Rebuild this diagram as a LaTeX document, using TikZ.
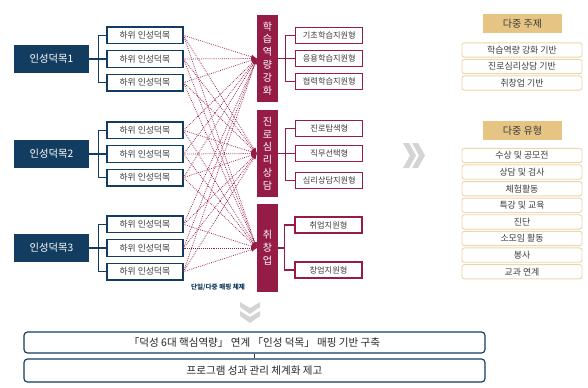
\documentclass[tikz,border=0pt]{standalone}
\usepackage{fontspec}
\setmainfont{Noto Sans CJK KR}
\usetikzlibrary{arrows}
\usetikzlibrary{positioning,calc}
\definecolor{deokNavy}{RGB}{18,60,96}
\definecolor{deokRed}{RGB}{150,28,72}
\definecolor{deokTan}{RGB}{230,196,132}
\definecolor{deokTanLine}{RGB}{236,214,170}
\definecolor{deokText}{RGB}{60,60,60}
\tikzset{virtue/.style={rectangle,fill=deokNavy,text=white,minimum width=2.25cm,
		                 minimum height=0.84cm,inner sep=0pt,font=\fontsize{8.8}{10}\selectfont},
		subVirtue/.style={rectangle,draw=deokNavy,line width=1.1pt,fill=white,text=deokText,
		                 minimum width=2.28cm,minimum height=0.5cm,inner sep=0pt,
		                 font=\fontsize{7.5}{8}\selectfont},
		area/.style={rectangle,fill=deokRed,text=white,minimum width=0.63cm,inner sep=0pt,
		                 font=\fontsize{8.6}{11}\selectfont},
		areaType/.style={rectangle,draw=deokRed,line width=1pt,fill=white,text=deokText,
		                 minimum width=2.01cm,minimum height=0.48cm,inner sep=0pt,
		                 font=\fontsize{7}{8}\selectfont},
		headTan/.style={rectangle,fill=deokTan,text=deokText,minimum width=2.37cm,
		                 minimum height=0.57cm,inner sep=0pt,font=\fontsize{8.6}{9}\selectfont},
		itemTan/.style={rectangle,rounded corners=2pt,draw=deokTanLine,line width=0.8pt,fill=white,
		                 text=deokText,minimum width=3.6cm,minimum height=0.43cm,inner sep=0pt,
		                 font=\fontsize{7.6}{8}\selectfont},
		goal/.style={rectangle,rounded corners=3pt,draw=deokNavy,line width=1pt,fill=white,
		                 text=black!85,minimum width=13.83cm,inner sep=0pt,
		                 font=\fontsize{9}{10}\selectfont},
		bracket/.style={deokNavy,line width=1pt},
		bracketR/.style={deokRed,line width=1pt},
		mapEdge/.style={-latex,densely dotted,deokRed,line width=0.65pt},
		chevron/.style={fill=black!17,draw=none},
		every node/.style={align=center}}
\begin{document}
\begin{tikzpicture}[x=0.03cm,y=-0.03cm]
	\useasboundingbox (0,0) rectangle (588,387);
	% virtues
	\node [virtue] (m1) at (51.5,59) {인성덕목1};
	\node [virtue] (m2) at (51.5,154) {인성덕목2};
	\node [virtue] (m3) at (51.5,248) {인성덕목3};
	\foreach \m in {1,2,3}{
		\node [subVirtue] (s\m b) [right=0.51cm of m\m] {하위 인성덕목};
		\node [subVirtue] (s\m a) [above=0.17cm of s\m b] {하위 인성덕목};
		\node [subVirtue] (s\m c) [below=0.17cm of s\m b] {하위 인성덕목};
		\draw [bracket] (m\m.east) -- (s\m b.west);
		\draw [bracket] (s\m a.west) -- ++(-8,0) |- (s\m c.west);
	}
	% areas
	\node [area, minimum height=2.61cm] (a1) at (267.5,58.5) {학\\습\\역\\량\\강\\화};
	\node [area, minimum height=2.61cm] (a2) at (267.5,153.5) {진\\로\\심\\리\\상\\담};
	\node [area, minimum height=2.64cm] (a3) at (267.5,248) {취\\창\\업};
	\node [font=\fontsize{5.6}{6}\selectfont\bfseries, text=deokNavy] (mapLabel) at (218,287) {단일/다중 매핑 체제};
	%edges
	\foreach \s in {s1a,s1b,s1c,s2a,s2b,s2c,s3a,s3b,s3c}
		\foreach \a in {a1,a2,a3}
			\draw [mapEdge] (\s.east) -- (\a.west);
	% area types
	\node [areaType] (t1b) [right=0.51cm of a1] {응용학습지원형};
	\node [areaType] (t1a) [above=0.18cm of t1b] {기초학습지원형};
	\node [areaType] (t1c) [below=0.18cm of t1b] {협력학습지원형};
	\node [areaType] (t2b) [right=0.51cm of a2] {직무선택형};
	\node [areaType] (t2a) [above=0.24cm of t2b] {진로탐색형};
	\node [areaType] (t2c) [below=0.3cm of t2b] {심리상담지원형};
	\node [areaType] (t3a) at (328.5,225) {취업지원형};
	\node [areaType] (t3c) at (328.5,270) {창업지원형};
	\draw [bracketR] (a1.east) -- (t1b.west);
	\draw [bracketR] (t1a.west) -- ++(-10,0) |- (t1c.west);
	\draw [bracketR] (a2.east) -- (t2b.west);
	\draw [bracketR] (t2a.west) -- ++(-10,0) |- (t2c.west);
	\draw [bracketR] (a3.east) -- ++(7,0);
	\draw [bracketR] (t3a.west) -- ++(-10,0) |- (t3c.west);
	% chevrons
	\foreach \dx in {0,9}
		\fill [chevron] (403+\dx,143) -- (409+\dx,143) -- (416+\dx,155.5) -- (409+\dx,168)
			-- (403+\dx,168) -- (410+\dx,155.5) -- cycle;
	\foreach \dy in {0,9}
		\fill [chevron] (240,302+\dy) -- (250,308+\dy) -- (260,302+\dy) -- (260,307+\dy)
			-- (250,314+\dy) -- (240,307+\dy) -- cycle;
	% themes and types
	\node [headTan] (h1) at (522.5,23.5) {다중 주제};
	\node [headTan] (h2) at (522.5,130.5) {다중 유형};
	\foreach \txt [count=\i] in {학습역량 강화 기반,진로심리상담 기반,취창업 기반}
		\node [itemTan] (th\i) at (522,33.5+16.5*\i) {\txt};
	\foreach \txt [count=\i] in {수상 및 공모전,상담 및 검사,체험활동,특강 및 교육,진단,소모임 활동,봉사,교과 연계}
		\node [itemTan] (ty\i) at (522,138.9+16.6*\i) {\txt};
	% goals
	\node [goal, minimum height=0.63cm] (g1) at (254.5,342.5) {「덕성 6대 핵심역량」 연계 「인성 덕목」 매핑 기반 구축};
	\node [goal, minimum height=0.69cm] (g2) at (254.5,370.5) {프로그램 성과 관리 체계화 제고};
	\draw [bracket] (g1) -- (g2);
\end{tikzpicture}
\end{document}
